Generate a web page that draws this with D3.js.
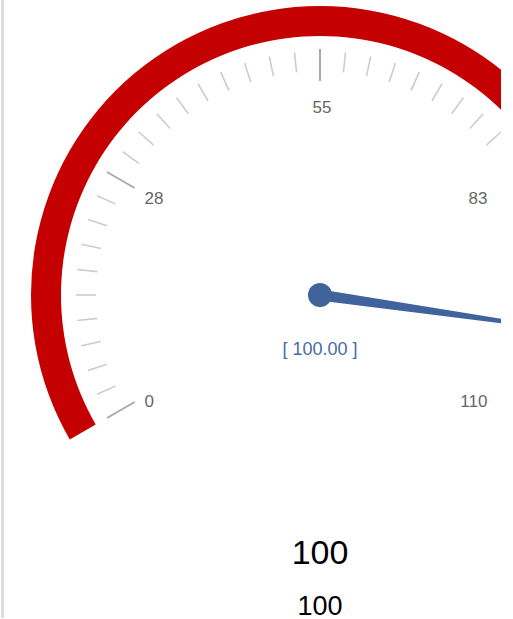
<!DOCTYPE html>
<html>
<head>
<meta charset="utf-8">
<title>Gauge</title>
<style>
  html, body { margin: 0; padding: 0; background: #fff; }
  body { font-family: "Liberation Sans", Arial, sans-serif; }
  .frame { position: absolute; left: 1px; top: 0; width: 3px; height: 618px; background: #dddddd; }
  .tick.minor { stroke: #cccccc; stroke-width: 1.6; }
  .tick.major { stroke: #aaaaaa; stroke-width: 2; }
  .tick-label { fill: #666666; font-size: 17px; }
</style>
</head>
<body>
<div class="frame"></div>
<script src="https://d3js.org/d3.v7.min.js"></script>
<script>
  // gauge data
  var gaugeMin = 0, gaugeMax = 110;
  var gaugeValue = 100;
  var majorTicks = [0, 27.5, 55, 82.5, 110];
  var tickLabels = ["0", "28", "55", "83", "110"];
  var minorPerSplit = 10;
  var detailText = "[ 100.00 ]";
  var titleText = "100";
  var subText = "100";

  var W = 513, H = 619;
  var cx = 320, cy = 295;
  var rOuter = 289, rInner = 259;

  // value -> angle in degrees (math convention, ccw from east)
  var ang = d3.scaleLinear().domain([gaugeMin, gaugeMax]).range([210, -30]);
  var rad = function(d) { return ang(d) * Math.PI / 180; };

  var svg = d3.select("body").append("svg")
      .attr("width", W).attr("height", H)
      .style("position", "absolute").style("left", 0).style("top", 0);

  svg.append("clipPath").attr("id", "clip")
    .append("rect").attr("x", 0).attr("y", 0).attr("width", 501).attr("height", H);

  var g = svg.append("g").attr("clip-path", "url(#clip)")
    .append("g").attr("transform", "translate(" + cx + "," + cy + ")");

  // red band (d3.arc: 0 at 12 o'clock, clockwise)
  var arc = d3.arc()
      .innerRadius(rInner).outerRadius(rOuter)
      .startAngle((90 - ang(gaugeMin)) * Math.PI / 180)
      .endAngle((90 - ang(gaugeMax)) * Math.PI / 180);
  g.append("path").attr("d", arc()).attr("fill", "#c40000");

  // minor ticks
  var step = (majorTicks[1] - majorTicks[0]) / minorPerSplit;
  var minor = d3.range(0, (majorTicks.length - 1) * minorPerSplit + 1)
      .map(function(i) { return gaugeMin + i * step; })
      .filter(function(v, i) { return i % minorPerSplit !== 0; });

  g.selectAll("line.minor").data(minor).enter().append("line")
      .attr("class", "tick minor")
      .attr("x1", function(d) { return 224 * Math.cos(rad(d)); })
      .attr("y1", function(d) { return -224 * Math.sin(rad(d)); })
      .attr("x2", function(d) { return 244 * Math.cos(rad(d)); })
      .attr("y2", function(d) { return -244 * Math.sin(rad(d)); });

  g.selectAll("line.major").data(majorTicks).enter().append("line")
      .attr("class", "tick major")
      .attr("x1", function(d) { return 214 * Math.cos(rad(d)); })
      .attr("y1", function(d) { return -214 * Math.sin(rad(d)); })
      .attr("x2", function(d) { return 246 * Math.cos(rad(d)); })
      .attr("y2", function(d) { return -246 * Math.sin(rad(d)); });

  // labels, aligned like the echarts gauge does
  var rLabelX = 198, rLabelY = 203;
  g.selectAll("text.tick-label").data(majorTicks).enter().append("text")
      .attr("class", "tick-label")
      .each(function(d, i) {
        var ux = Math.cos(rad(d)), uy = -Math.sin(rad(d));
        var x = rLabelX * ux, y = rLabelY * uy;
        var anchor = ux < -0.8 ? "start" : (ux > 0.8 ? "end" : "middle");
        if (anchor !== "middle") x -= 4;
        else x += 2;
        var dy = uy < -0.8 ? 21 : 10.5;
        d3.select(this)
          .attr("x", x).attr("y", y + dy)
          .attr("text-anchor", anchor)
          .text(tickLabels[i]);
      });

  // pointer
  var pa = rad(gaugeValue), pLen = 300, pW = 5.5;
  var px = Math.cos(pa), py = -Math.sin(pa);
  var nx = -py, ny = px;
  g.append("path")
      .attr("d", "M" + (nx * pW) + "," + (ny * pW) +
                 "L" + (px * pLen) + "," + (py * pLen) +
                 "L" + (-nx * pW) + "," + (-ny * pW) + "Z")
      .attr("fill", "#41639c");
  g.append("circle").attr("r", 12).attr("fill", "#41639c");

  g.append("text")
      .attr("x", 0).attr("y", 60)
      .attr("text-anchor", "middle")
      .style("font-size", "18px").style("fill", "#4a6ba5")
      .text(detailText);

  svg.append("text")
      .attr("x", cx).attr("y", 564)
      .attr("text-anchor", "middle")
      .style("font-size", "34px").style("fill", "#000")
      .text(titleText);

  svg.append("text")
      .attr("x", cx).attr("y", 615)
      .attr("text-anchor", "middle")
      .style("font-size", "27px").style("fill", "#000")
      .text(subText);
</script>
</body>
</html>
